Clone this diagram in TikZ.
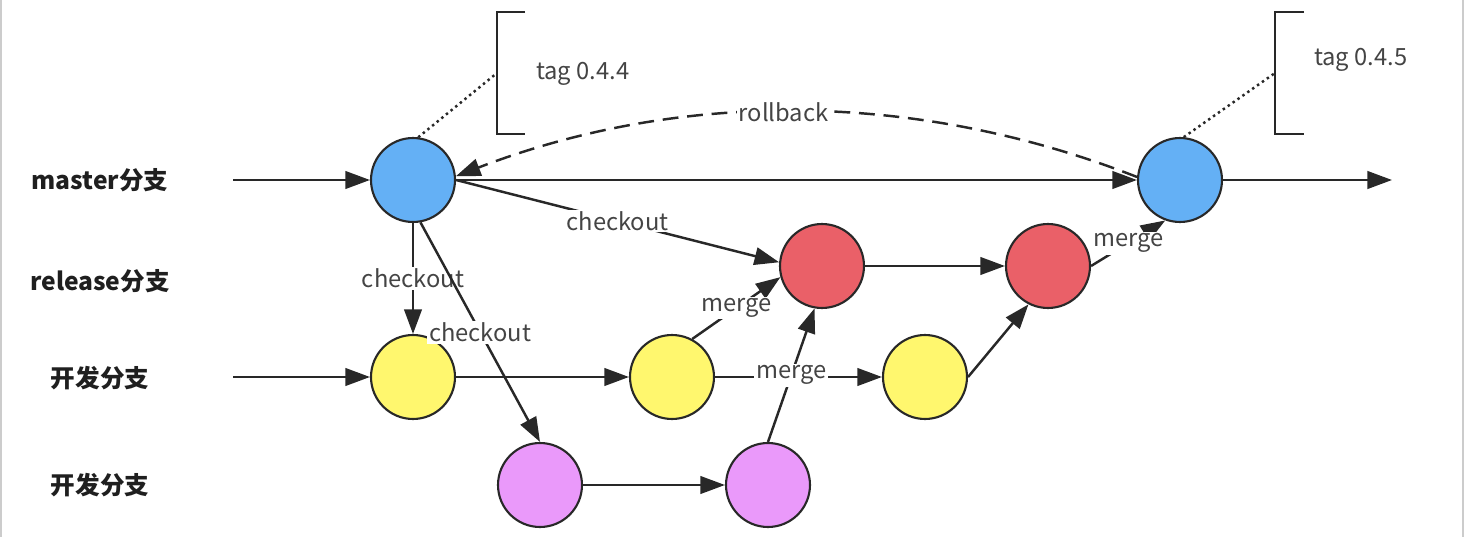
\documentclass[tikz,border=0pt]{standalone}
\usepackage{fontspec}
\setmainfont{Noto Sans CJK SC}
\usetikzlibrary{arrows.meta,positioning}
\definecolor{linegray}{RGB}{40,40,40}
\definecolor{textgray}{RGB}{68,68,68}
\definecolor{masterblue}{RGB}{100,176,245}
\definecolor{releasered}{RGB}{234,96,104}
\definecolor{devyellow}{RGB}{255,247,110}
\definecolor{featpurple}{RGB}{234,153,250}
\tikzset{
  commit/.style={circle, draw=linegray, line width=1.2pt, minimum size=1.68cm, inner sep=0pt},
  branchname/.style={font=\bfseries\fontsize{14}{16}\selectfont, text=black!88},
  edgelabel/.style={font=\fontsize{13.5}{16}\selectfont, text=textgray, fill=white, inner sep=1pt},
  flow/.style={-{Triangle[length=14pt,width=10pt]}, line width=1.4pt, draw=linegray},
  tagline/.style={line width=1.4pt, draw=linegray},
}
\begin{document}
\begin{tikzpicture}[x=0.02cm, y=-0.02cm]
\useasboundingbox (0,0) rectangle (1464,537);
\draw[black!20, line width=0.6pt] (1,0) -- (1,537) (1463,0) -- (1463,537);

% Branch names
\node[branchname] (lmaster) at (100,180) {master分支};
\node[branchname] (lrelease) at (100,281) {release分支};
\node[branchname] (ldev) at (100,378) {开发分支};
\node[branchname] (lfeat) at (100,485) {开发分支};

% Commits
\node[commit, fill=masterblue] (m1) at (413,180) {};
\node[commit, fill=masterblue] (m2) at (1180,180) {};
\node[commit, fill=releasered] (r1) at (822,266) {};
\node[commit, fill=releasered] (r2) at (1048,266) {};
\node[commit, fill=devyellow] (d1) at (413,377) {};
\node[commit, fill=devyellow] (d2) at (672,377) {};
\node[commit, fill=devyellow] (d3) at (925,377) {};
\node[commit, fill=featpurple] (f1) at (540,485) {};
\node[commit, fill=featpurple] (f2) at (768,485) {};

% Free ends
\coordinate (mstart) at (233,180);
\coordinate (dstart) at (233,377);
\coordinate (mend) at (1392,180);

% Tags
\draw[tagline] (525,12) -- (497,12) -- (497,134) coordinate[midway] (b1mid) -- (525,134);
\draw[tagline] (1304,12) -- (1275,12) -- (1275,134) coordinate[midway] (b2mid) -- (1304,134);
\node[edgelabel, anchor=west] (tag1) at (534,74) {tag 0.4.4};
\node[edgelabel, anchor=west] (tag2) at (1312,60) {tag 0.4.5};
\draw[linegray, line width=1.4pt, dotted] (m1.83) -- (b1mid);
\draw[linegray, line width=1.4pt, dotted] (m2.85) -- (b2mid);

% Master line
\draw[flow] (mstart) -- (m1);
\draw[flow] (m1) -- (m2);
\draw[flow] (m2) -- (mend);
\draw[flow, dash pattern=on 9pt off 5pt] (m2.176) .. controls (915,90) and (680,90) .. node[edgelabel, pos=0.52] (rb) {rollback} (m1.5);

% Checkouts
\draw[flow] (m1.east) -- node[edgelabel] {checkout} (r1.175);
\draw[flow] (m1) -- node[edgelabel] {checkout} (d1);
\draw[flow] (m1.280) -- node[edgelabel] {checkout} (f1.north);

% Develop and feature lines
\draw[flow] (dstart) -- (d1);
\draw[flow] (d1) -- (d2);
\draw[flow] (d2) -- (d3);
\draw[flow] (f1) -- (f2);
\draw[flow] (r1) -- (r2);

% Merges
\draw[flow] (d2.62) -- node[edgelabel] {merge} (r1.195);
\draw[flow] (f2.north) -- node[edgelabel] {merge} (r1.260);
\draw[flow] (d3.east) -- (r2.243);
\draw[flow] (r2.east) -- node[edgelabel] {merge} (m2.250);

\end{tikzpicture}
\end{document}
